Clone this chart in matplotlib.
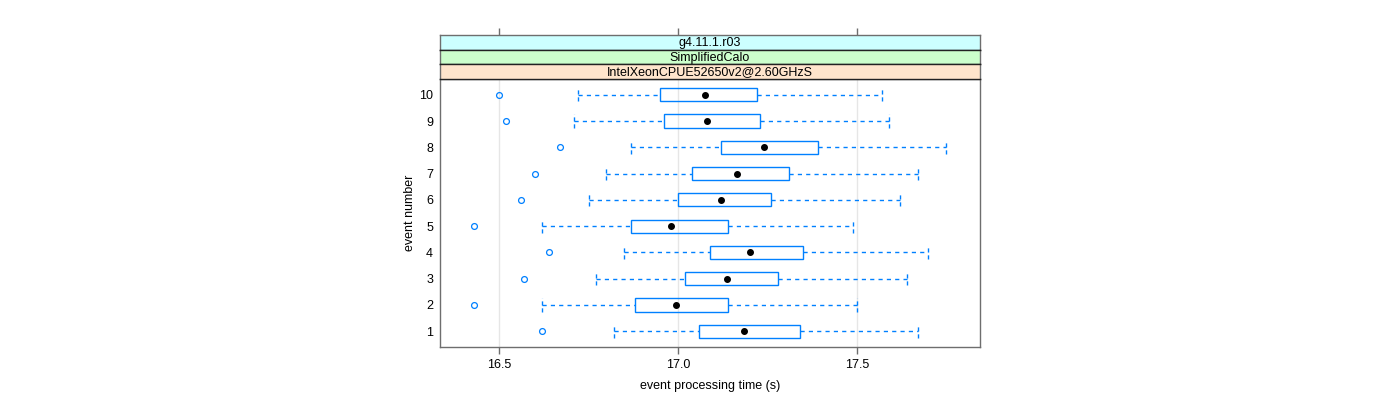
import matplotlib
matplotlib.use("Agg")
import matplotlib.pyplot as plt
from matplotlib.patches import Rectangle

plt.rcParams['font.family'] = ['Liberation Sans', 'DejaVu Sans']

events = [1, 2, 3, 4, 5, 6, 7, 8, 9, 10]
lower_whisker = [16.82, 16.62, 16.77, 16.85, 16.62, 16.75, 16.80, 16.87, 16.71, 16.72]
q1 = [17.06, 16.88, 17.02, 17.09, 16.87, 17.00, 17.04, 17.12, 16.96, 16.95]
median = [17.185, 16.995, 17.136, 17.20, 16.98, 17.12, 17.166, 17.24, 17.08, 17.075]
q3 = [17.34, 17.14, 17.28, 17.35, 17.14, 17.26, 17.31, 17.39, 17.23, 17.22]
upper_whisker = [17.67, 17.50, 17.64, 17.70, 17.49, 17.62, 17.67, 17.75, 17.59, 17.57]
outliers = [16.62, 16.43, 16.57, 16.64, 16.43, 16.56, 16.60, 16.67, 16.52, 16.50]

x_ticks = [16.5, 17.0, 17.5]
x_tick_labels = ["16.5", "17.0", "17.5"]
strip_labels = ["g4.11.1.r03", "SimplifiedCalo", "IntelXeonCPUE52650v2@2.60GHzS"]
strip_colors = ["#ccffff", "#ccffcc", "#ffe5cc"]

blue = "#0080ff"
frame = "#6e6e6e"

fig = plt.figure(figsize=(14, 4), dpi=100)
W, H = 1400.0, 400.0
left, right = 440 / W, 980 / W
bottom, top = 1 - 347 / H, 1 - 79 / H
ax = fig.add_axes([left, bottom, right - left, top - bottom])

ax.set_xlim(16.335, 17.844)
ax.set_ylim(0.4, 10.6)

for t in x_ticks:
    ax.axvline(t, color="#e6e6e6", lw=1, zorder=0)

bh = 0.5
for i, e in enumerate(events):
    ax.add_patch(Rectangle((q1[i], e - bh / 2), q3[i] - q1[i], bh,
                           facecolor="none", edgecolor=blue, lw=1, zorder=3))
    ax.plot([lower_whisker[i], q1[i]], [e, e], color=blue, lw=1, ls=(0, (3, 3)), zorder=2)
    ax.plot([q3[i], upper_whisker[i]], [e, e], color=blue, lw=1, ls=(0, (3, 3)), zorder=2)
    for w in (lower_whisker[i], upper_whisker[i]):
        ax.plot([w, w], [e - bh / 2, e + bh / 2], color=blue, lw=1, ls=(0, (3, 2)), zorder=2)
    ax.plot(outliers[i], e, marker="o", ms=4.2, mfc="none", mec=blue, mew=0.9, zorder=4)
    ax.plot(median[i], e, marker="o", ms=4, mfc="black", mec="black", zorder=5)

ax.set_xticks(x_ticks)
ax.set_xticklabels(x_tick_labels, fontsize=9)
ax.set_yticks(events)
ax.set_yticklabels([str(e) for e in events], fontsize=9)
ax.tick_params(axis="y", length=0, pad=5)
ax.tick_params(axis="x", length=5, width=1, color=frame, pad=4)
for s in ax.spines.values():
    s.set_color(frame)
    s.set_linewidth(1)
ax.set_xlabel("event processing time (s)", fontsize=9, labelpad=6)
ax.set_ylabel("event number", fontsize=9, labelpad=2)

# strips
sh = (79 - 35) / 3.0
for k, (lab, col) in enumerate(zip(strip_labels, strip_colors)):
    y0 = 35 + k * sh
    sax = fig.add_axes([left, 1 - (y0 + sh) / H, right - left, sh / H], facecolor=col)
    sax.set_xlim(ax.get_xlim())
    sax.set_ylim(0, 1)
    sax.text(0.5, 0.45, lab, transform=sax.transAxes, ha="center", va="center", fontsize=9)
    sax.set_yticks([])
    if k == 0:
        sax.set_xticks(x_ticks)
        sax.tick_params(axis="x", bottom=False, top=True, labelbottom=False,
                        labeltop=False, length=5, width=1, color=frame)
    else:
        sax.set_xticks([])
    for name, s in sax.spines.items():
        s.set_linewidth(1)
        s.set_color(frame if name in ("left", "right") else "#222222")
    if k == 0:
        sax.spines["top"].set_color(frame)

fig.savefig("out.png", dpi=100)
